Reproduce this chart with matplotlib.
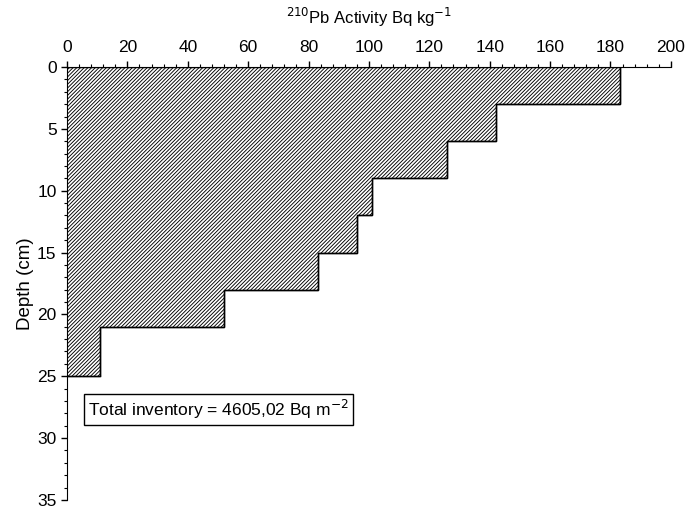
import numpy as np
import matplotlib
matplotlib.use("Agg")
import matplotlib.pyplot as plt
from matplotlib.ticker import MultipleLocator

plt.rcParams['font.family'] = ['Liberation Sans', 'DejaVu Sans']
plt.rcParams['hatch.linewidth'] = 0.65

# depth layer boundaries (cm) and 210Pb activity in each layer (Bq/kg)
depth_edges = [0, 3, 6, 9, 12, 15, 18, 21, 25]
activity = [183, 142, 126, 101, 96, 83, 52, 11]
inventory_text = "Total inventory = 4605,02 Bq m$^{-2}$"

fig = plt.figure(figsize=(6.87, 5.08), dpi=100)
ax = fig.add_axes([0.0975, 0.016, 0.879, 0.852])

# hatched step profile
ax.stairs(activity, depth_edges, orientation='horizontal', baseline=0,
          fill=True, facecolor='white', edgecolor='black', hatch='/////////',
          linewidth=1.0)
# outline of the steps
ax.stairs(activity, depth_edges, orientation='horizontal', baseline=None,
          fill=False, color='black', linewidth=1.0)
ax.plot([0, activity[-1]], [depth_edges[-1], depth_edges[-1]], color='black', lw=1.0)

ax.set_xlim(0, 200)
ax.set_ylim(35, 0)

# only top and left axes
ax.spines['right'].set_visible(False)
ax.spines['bottom'].set_visible(False)
ax.xaxis.tick_top()
ax.xaxis.set_label_position('top')
ax.xaxis.set_major_locator(MultipleLocator(20))
ax.xaxis.set_minor_locator(MultipleLocator(4))
ax.yaxis.set_major_locator(MultipleLocator(5))
ax.yaxis.set_minor_locator(MultipleLocator(1))
ax.tick_params(which='major', direction='out', length=4, width=1, labelsize=12.5)
ax.tick_params(which='minor', direction='out', length=2.5, width=0.8)
ax.tick_params(axis='x', pad=5)

ax.set_xlabel("$^{210}$Pb Activity Bq kg$^{-1}$", fontsize=12, labelpad=11)
ax.set_ylabel("Depth (cm)", fontsize=13.5, labelpad=2)

ax.text(7, 27.7, inventory_text, fontsize=12.5, va='center', ha='left',
        bbox=dict(boxstyle='square,pad=0.25', facecolor='white', edgecolor='black', linewidth=1.0))

fig.savefig("out.png", dpi=100)
